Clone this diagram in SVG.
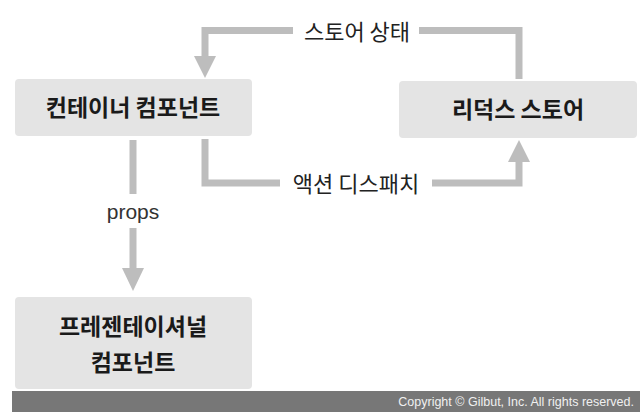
<svg xmlns="http://www.w3.org/2000/svg" width="640" height="420" viewBox="0 0 640 420">
<style>
.box{fill:#e4e4e4;}
.bt{font-family:"Noto Sans CJK KR","Noto Sans",sans-serif;font-weight:bold;font-size:23px;fill:#1a1a1a;text-anchor:middle;}
.lbl{font-family:"Noto Sans CJK KR","Noto Sans",sans-serif;font-size:22px;fill:#222;text-anchor:middle;}
.ln{fill:none;stroke:#bdbdbd;stroke-width:7;}
.ah{fill:#bdbdbd;}
</style>
<rect width="640" height="420" fill="#ffffff"/>
<g id="connectors">
  <polyline class="ln" points="519,79 519,30.5 419,30.5"/>
  <polyline class="ln" points="293,30.5 205,30.5 205,58"/>
  <polygon class="ah" points="194,56 216,56 205,78"/>
  <polyline class="ln" points="205,139 205,183 280,183"/>
  <polyline class="ln" points="432,183 519,183 519,161"/>
  <polygon class="ah" points="508,162 530,162 519,140"/>
  <line class="ln" x1="133" y1="140" x2="133" y2="194"/>
  <line class="ln" x1="133" y1="228" x2="133" y2="270"/>
  <polygon class="ah" points="122,268 144,268 133,291"/>
</g>
<g id="label-store-state"><text class="lbl" x="357" y="40">스토어 상태</text></g>
<g id="label-dispatch"><text class="lbl" x="356" y="192">액션 디스패치</text></g>
<g id="label-props"><text x="133" y="219" font-family="'Liberation Sans',Arial,sans-serif" font-size="21" fill="#333" text-anchor="middle">props</text></g>
<g id="container">
  <rect class="box" x="15" y="79" width="237" height="57" rx="4"/>
  <text class="bt" x="133" y="116">컨테이너 컴포넌트</text>
</g>
<g id="store">
  <rect class="box" x="399" y="81" width="238" height="57" rx="4"/>
  <text class="bt" x="518" y="118">리덕스 스토어</text>
</g>
<g id="presentational">
  <rect class="box" x="15" y="297" width="237" height="92" rx="4"/>
  <text class="bt" x="133" y="335">프레젠테이셔널</text>
  <text class="bt" x="133" y="371">컴포넌트</text>
</g>
<g id="footer">
  <rect x="12" y="391" width="628" height="21" fill="#777777"/>
  <text x="634" y="406" font-family="'Liberation Sans',Arial,sans-serif" font-size="12.5" fill="#f0f0f0" text-anchor="end">Copyright © Gilbut, Inc. All rights reserved.</text>
</g>
</svg>
